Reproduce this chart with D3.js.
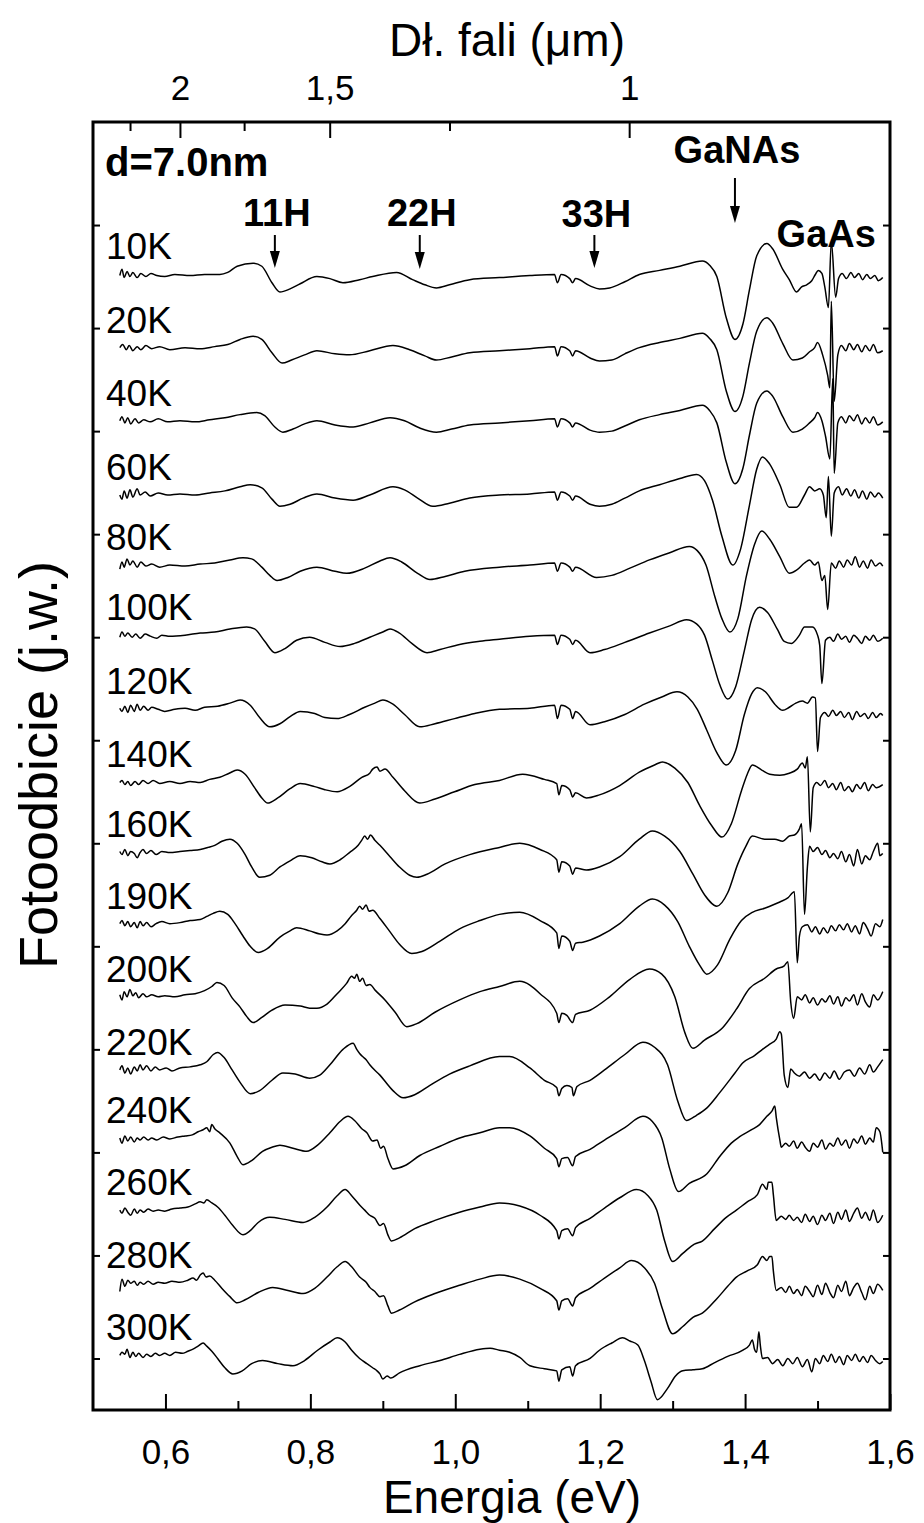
<!DOCTYPE html>
<html>
<head>
<meta charset="utf-8">
<script src="https://cdn.jsdelivr.net/npm/d3@7"></script>
<style>
  body { margin: 0; background: #fff; }
  text { font-family: "Liberation Sans", Arial, sans-serif; fill: #000; }
</style>
</head>
<body>
<svg id="chart" width="924" height="1523"></svg>
<script>
// temperatures, top to bottom
const temps = ['10K','20K','40K','60K','80K','100K','120K','140K','160K','190K','200K','220K','240K','260K','280K','300K'];
// vertical offset of each spectrum (a.u.)
const offsets = [10.52, 9.81, 9.10, 8.38, 7.70, 7.02, 6.30, 5.59, 4.92, 4.22, 3.51, 2.80, 2.14, 1.44, 0.73, 0.03];

// spectra: [energy eV, signal (0.01 a.u.)]
const t10 = [[.537,-1],[.540,5],[.543,-3],[.547,3],[.551,-2],[.555,2],[.561,-3],[.566,1],[.573,-2],[.580,1],[.588,-1],[.599,-2],[.613,0],[.634,-1],[.654,0],[.675,0],[.686,2],[.699,8],[.721,11],[.733,8],[.747,-8],[.758,-17],[.772,-14],[.786,-9],[.809,-2],[.827,-4],[.845,-8],[.868,-5],[.886,-2],[.919,2],[.941,-5],[.958,-10],[.974,-13],[.992,-10],[1.020,-5],[1.061,-3],[1.103,-1],[1.137,0],[1.141,-8],[1.146,0],[1.158,-4],[1.162,-8],[1.166,-4],[1.186,-11],[1.199,-14],[1.213,-13],[1.234,-7],[1.254,0],[1.282,4],[1.310,8],[1.341,13],[1.351,9],[1.361,-2],[1.374,-42],[1.386,-63],[1.397,-48],[1.406,-15],[1.416,18],[1.430,30],[1.438,25],[1.452,5],[1.461,-5],[1.471,-17],[1.478,-12],[1.485,-10],[1.492,-6],[1.497,0],[1.501,4],[1.506,1],[1.510,-12],[1.515,-32],[1.519,32],[1.525,-22],[1.529,-4],[1.534,1],[1.540,-4],[1.546,2],[1.551,-3],[1.557,1],[1.562,-5],[1.568,0],[1.573,-4],[1.579,-1],[1.584,-6],[1.590,-3]];
const t20 = [[.537,0],[.541,3],[.546,-2],[.550,2],[.555,-3],[.561,1],[.566,-2],[.573,2],[.581,-1],[.592,1],[.606,-2],[.627,0],[.648,-1],[.668,1],[.686,3],[.703,8],[.721,11],[.733,8],[.747,-5],[.761,-15],[.774,-12],[.792,-7],[.809,-3],[.834,-6],[.854,-7],[.882,-3],[.914,2],[.937,-2],[.958,-8],[.974,-12],[.995,-9],[1.020,-5],[1.061,-3],[1.103,-1],[1.137,1],[1.141,-8],[1.146,1],[1.158,-3],[1.162,-8],[1.166,-3],[1.186,-10],[1.199,-13],[1.216,-12],[1.234,-6],[1.254,0],[1.282,5],[1.310,9],[1.341,14],[1.351,9],[1.361,-2],[1.374,-42],[1.386,-62],[1.397,-47],[1.406,-15],[1.416,16],[1.430,29],[1.438,24],[1.452,4],[1.466,-12],[1.479,-10],[1.489,-4],[1.496,0],[1.500,5],[1.507,-7],[1.514,-27],[1.517,-39],[1.519,45],[1.523,-52],[1.528,-7],[1.533,2],[1.539,-3],[1.544,4],[1.550,-2],[1.555,3],[1.561,-4],[1.566,2],[1.572,-3],[1.577,3],[1.583,-5],[1.590,-3]];
const t40 = [[.537,0],[.540,4],[.544,-2],[.548,3],[.552,-3],[.558,2],[.563,-2],[.570,1],[.579,-1],[.590,2],[.603,-1],[.620,0],[.641,-1],[.661,1],[.682,3],[.703,6],[.726,8],[.737,5],[.751,-6],[.762,-11],[.776,-8],[.792,-3],[.809,0],[.834,-4],[.859,-6],[.882,-2],[.910,3],[.930,0],[.951,-7],[.974,-11],[.995,-8],[1.020,-4],[1.061,-2],[1.103,0],[1.137,2],[1.141,-6],[1.146,2],[1.158,-2],[1.162,-6],[1.166,-2],[1.186,-9],[1.199,-11],[1.216,-10],[1.234,-5],[1.254,1],[1.282,6],[1.310,10],[1.341,15],[1.351,10],[1.361,-2],[1.374,-40],[1.386,-61],[1.397,-46],[1.406,-14],[1.416,17],[1.430,29],[1.438,24],[1.452,4],[1.466,-11],[1.479,-8],[1.489,-2],[1.496,3],[1.500,8],[1.506,0],[1.511,-15],[1.517,-37],[1.521,41],[1.523,-51],[1.528,-2],[1.533,4],[1.539,-2],[1.544,5],[1.550,0],[1.555,6],[1.561,-3],[1.566,3],[1.572,-2],[1.577,4],[1.583,-4],[1.590,-1]];
const t60 = [[.537,0],[.540,-4],[.543,4],[.547,-3],[.551,5],[.555,-2],[.561,6],[.565,0],[.572,3],[.579,-1],[.590,2],[.603,0],[.620,1],[.641,0],[.661,2],[.682,4],[.703,8],[.717,10],[.733,7],[.747,-4],[.758,-11],[.772,-9],[.790,-3],[.809,1],[.834,-3],[.859,-5],[.882,0],[.914,8],[.930,5],[.948,-3],[.969,-11],[.992,-8],[1.020,-3],[1.061,0],[1.103,1],[1.137,3],[1.141,-5],[1.146,3],[1.158,-1],[1.162,-5],[1.166,-1],[1.186,-9],[1.199,-11],[1.216,-9],[1.234,-3],[1.254,4],[1.282,10],[1.310,16],[1.333,20],[1.344,14],[1.355,-5],[1.368,-40],[1.383,-68],[1.394,-52],[1.406,-10],[1.416,25],[1.424,37],[1.434,30],[1.448,10],[1.461,-12],[1.471,-12],[1.482,0],[1.489,8],[1.496,4],[1.503,6],[1.508,0],[1.512,-22],[1.515,18],[1.519,-40],[1.523,2],[1.529,8],[1.534,0],[1.540,6],[1.546,-1],[1.551,5],[1.557,-3],[1.562,4],[1.568,-4],[1.573,3],[1.579,-2],[1.584,2],[1.590,-3]];
const t80 = [[.537,-4],[.540,3],[.543,-2],[.547,6],[.551,0],[.555,4],[.561,-2],[.566,3],[.573,-1],[.581,1],[.592,-2],[.606,0],[.627,-1],[.648,1],[.668,2],[.689,5],[.707,7],[.719,6],[.733,-2],[.744,-10],[.754,-15],[.769,-12],[.786,-6],[.809,-2],[.834,-6],[.850,-8],[.875,-3],[.896,4],[.910,7],[.926,3],[.948,-8],[.965,-14],[.986,-11],[1.013,-6],[1.061,-2],[1.103,0],[1.137,2],[1.141,-6],[1.146,2],[1.158,-2],[1.162,-6],[1.166,-2],[1.195,-12],[1.216,-10],[1.241,-3],[1.268,5],[1.296,12],[1.323,18],[1.334,14],[1.346,0],[1.358,-30],[1.368,-52],[1.379,-65],[1.390,-52],[1.402,-10],[1.413,20],[1.423,33],[1.434,25],[1.448,8],[1.461,-8],[1.471,-5],[1.482,2],[1.489,5],[1.496,0],[1.501,3],[1.506,-15],[1.510,-10],[1.514,-43],[1.519,2],[1.525,-3],[1.530,4],[1.536,-2],[1.541,5],[1.547,0],[1.552,8],[1.558,-2],[1.563,4],[1.569,-3],[1.574,5],[1.580,-1],[1.586,2],[1.590,-1]];
const t100 = [[.537,-2],[.540,3],[.544,-1],[.548,2],[.554,-2],[.559,1],[.565,-3],[.572,1],[.579,-1],[.588,-3],[.595,0],[.606,-1],[.627,0],[.648,2],[.668,3],[.689,6],[.712,8],[.723,6],[.737,-6],[.751,-17],[.765,-13],[.781,-5],[.799,-2],[.820,-7],[.841,-11],[.861,-8],[.882,-2],[.900,3],[.910,6],[.923,2],[.940,-8],[.961,-17],[.979,-14],[1.006,-9],[1.034,-6],[1.061,-4],[1.103,-1],[1.137,0],[1.141,-9],[1.146,0],[1.158,-4],[1.162,-9],[1.166,-5],[1.186,-17],[1.206,-14],[1.234,-7],[1.268,2],[1.296,9],[1.319,15],[1.333,11],[1.344,0],[1.355,-25],[1.365,-48],[1.376,-62],[1.387,-50],[1.399,-15],[1.409,15],[1.420,27],[1.431,22],[1.445,5],[1.454,-6],[1.464,-8],[1.475,0],[1.482,8],[1.493,8],[1.500,0],[1.503,-10],[1.506,-47],[1.511,-5],[1.517,-2],[1.522,-6],[1.528,1],[1.533,-4],[1.539,-1],[1.544,-7],[1.550,0],[1.555,-3],[1.561,-8],[1.566,-1],[1.572,-5],[1.577,0],[1.583,-6],[1.590,-3]];
const t120 = [[.537,1],[.540,-2],[.544,3],[.548,-3],[.552,4],[.557,-2],[.561,5],[.565,-1],[.570,3],[.576,-1],[.581,2],[.590,0],[.599,-2],[.613,0],[.627,1],[.641,-1],[.654,2],[.672,3],[.689,6],[.703,9],[.717,4],[.730,-8],[.744,-17],[.758,-14],[.772,-7],[.786,-2],[.806,-4],[.820,-8],[.837,-9],[.854,-5],[.875,2],[.889,6],[.900,9],[.914,5],[.930,-5],[.951,-17],[.972,-14],[.999,-9],[1.027,-4],[1.061,0],[1.103,1],[1.137,4],[1.141,-9],[1.146,4],[1.158,0],[1.162,-9],[1.166,-2],[1.186,-15],[1.206,-12],[1.234,-5],[1.261,5],[1.285,12],[1.306,17],[1.321,12],[1.334,0],[1.347,-20],[1.361,-42],[1.374,-54],[1.387,-40],[1.399,-5],[1.409,15],[1.417,21],[1.428,17],[1.441,5],[1.452,-1],[1.461,2],[1.470,6],[1.479,8],[1.486,6],[1.493,12],[1.497,11],[1.500,-41],[1.504,-8],[1.510,-3],[1.515,-7],[1.521,-1],[1.526,-6],[1.532,-2],[1.537,-8],[1.543,-3],[1.548,-10],[1.554,-2],[1.559,-7],[1.565,-4],[1.570,-9],[1.576,-3],[1.581,-8],[1.587,-4],[1.590,-6]];
const t140 = [[.537,0],[.540,2],[.544,-2],[.548,1],[.552,-3],[.558,1],[.563,-2],[.569,2],[.576,-1],[.583,2],[.592,-1],[.606,1],[.620,-1],[.634,1],[.648,0],[.661,3],[.675,5],[.688,9],[.699,12],[.710,8],[.723,-5],[.733,-15],[.741,-20],[.755,-15],[.772,-6],[.786,-1],[.806,-4],[.820,-7],[.837,-9],[.854,-4],[.871,5],[.882,9],[.886,13],[.892,15],[.896,11],[.903,13],[.914,5],[.930,-8],[.951,-20],[.972,-16],[.999,-9],[1.027,-2],[1.061,2],[1.093,8],[1.123,3],[1.140,-1],[1.143,-12],[1.147,-3],[1.158,-7],[1.162,-14],[1.166,-10],[1.181,-15],[1.199,-12],[1.227,-3],[1.254,10],[1.275,17],[1.286,20],[1.303,14],[1.321,0],[1.337,-22],[1.354,-42],[1.368,-53],[1.381,-40],[1.395,-8],[1.403,8],[1.410,17],[1.423,12],[1.434,8],[1.448,7],[1.461,9],[1.472,13],[1.479,19],[1.483,14],[1.486,25],[1.490,-48],[1.494,-5],[1.499,0],[1.504,-3],[1.510,2],[1.515,-5],[1.521,-1],[1.526,-7],[1.532,0],[1.537,-8],[1.543,-4],[1.548,-9],[1.554,-2],[1.559,-6],[1.565,0],[1.570,-8],[1.576,-2],[1.581,-5],[1.590,-2]];
const t160 = [[.537,0],[.540,-3],[.544,2],[.548,-4],[.552,0],[.557,-2],[.561,-6],[.565,-1],[.569,2],[.574,-2],[.580,1],[.587,-3],[.595,0],[.606,-1],[.620,0],[.634,1],[.648,2],[.659,4],[.668,6],[.678,10],[.689,12],[.699,8],[.710,-3],[.719,-15],[.730,-25],[.744,-23],[.758,-15],[.772,-9],[.786,-4],[.802,-6],[.816,-10],[.827,-12],[.841,-8],[.854,-1],[.866,6],[.871,11],[.875,15],[.879,12],[.883,16],[.889,11],[.896,6],[.910,-5],[.923,-15],[.937,-23],[.947,-25],[.961,-22],[.986,-12],[1.020,-3],[1.061,4],[1.089,8],[1.117,2],[1.140,-8],[1.143,-20],[1.147,-10],[1.158,-14],[1.162,-22],[1.166,-16],[1.181,-18],[1.199,-15],[1.227,-5],[1.254,12],[1.272,20],[1.289,15],[1.310,0],[1.328,-22],[1.344,-42],[1.361,-53],[1.376,-40],[1.390,-12],[1.401,5],[1.410,15],[1.427,12],[1.441,12],[1.452,10],[1.461,15],[1.468,16],[1.475,22],[1.478,27],[1.482,-61],[1.486,-15],[1.489,5],[1.494,0],[1.500,4],[1.506,-3],[1.511,1],[1.517,-6],[1.522,-2],[1.528,-7],[1.533,0],[1.539,-10],[1.544,-3],[1.550,-14],[1.555,2],[1.561,-12],[1.566,-4],[1.572,-8],[1.577,0],[1.583,8],[1.586,-4],[1.590,-2]];
const t190 = [[.537,0],[.540,3],[.544,-2],[.548,2],[.552,-3],[.557,1],[.561,-4],[.565,2],[.569,-2],[.574,1],[.580,-3],[.587,0],[.595,2],[.606,0],[.620,1],[.634,3],[.648,4],[.657,7],[.666,10],[.675,12],[.686,9],[.696,0],[.707,-12],[.717,-22],[.728,-28],[.741,-24],[.758,-13],[.772,-7],[.781,-4],[.799,-7],[.813,-10],[.823,-11],[.837,-7],[.848,0],[.857,8],[.864,13],[.868,17],[.872,14],[.877,18],[.881,12],[.886,13],[.896,5],[.910,-8],[.923,-20],[.940,-29],[.954,-27],[.979,-17],[1.006,-5],[1.034,3],[1.061,9],[1.089,11],[1.117,3],[1.140,-9],[1.143,-24],[1.147,-12],[1.158,-17],[1.162,-26],[1.166,-19],[1.176,-18],[1.199,-12],[1.227,0],[1.254,17],[1.272,24],[1.289,18],[1.307,2],[1.323,-22],[1.337,-40],[1.347,-49],[1.362,-40],[1.379,-15],[1.395,3],[1.410,11],[1.427,15],[1.448,21],[1.459,25],[1.468,31],[1.472,-38],[1.475,-12],[1.479,-3],[1.486,-1],[1.492,-8],[1.497,-3],[1.503,-10],[1.508,-4],[1.514,-9],[1.519,-2],[1.525,-7],[1.530,-1],[1.536,-6],[1.541,0],[1.547,-8],[1.552,-2],[1.558,-10],[1.563,1],[1.569,-5],[1.574,-12],[1.580,0],[1.586,-3],[1.590,4]];
const t200 = [[.537,2],[.540,-3],[.543,5],[.547,0],[.551,7],[.555,1],[.559,4],[.563,-1],[.569,3],[.574,0],[.581,2],[.590,0],[.599,1],[.613,0],[.627,2],[.641,3],[.654,6],[.664,10],[.671,14],[.681,11],[.692,-1],[.703,-10],[.712,-19],[.721,-25],[.733,-20],[.747,-13],[.765,-8],[.786,-9],[.799,-11],[.809,-11],[.823,-7],[.837,3],[.850,13],[.857,20],[.861,18],[.864,22],[.868,15],[.872,18],[.877,11],[.882,12],[.890,6],[.903,-3],[.917,-15],[.933,-29],[.947,-26],[.972,-15],[1.006,-3],[1.034,5],[1.061,10],[1.089,15],[1.117,3],[1.140,-16],[1.143,-25],[1.147,-16],[1.154,-18],[1.162,-25],[1.166,-17],[1.186,-13],[1.213,0],[1.241,17],[1.268,27],[1.285,22],[1.303,0],[1.317,-35],[1.328,-50],[1.344,-42],[1.369,-30],[1.388,-12],[1.406,8],[1.427,18],[1.443,27],[1.454,30],[1.459,34],[1.463,-5],[1.467,-21],[1.472,0],[1.478,-3],[1.483,2],[1.489,-6],[1.494,-1],[1.500,-8],[1.506,-2],[1.511,-5],[1.517,1],[1.522,-7],[1.528,0],[1.533,-9],[1.539,-1],[1.544,-4],[1.550,2],[1.555,-8],[1.561,3],[1.566,-5],[1.572,-10],[1.577,2],[1.583,-3],[1.590,5]];
const t220 = [[.537,0],[.540,4],[.544,-3],[.548,2],[.552,-4],[.557,3],[.561,-1],[.565,5],[.569,0],[.574,4],[.580,-1],[.586,3],[.592,0],[.601,2],[.609,-1],[.620,2],[.634,3],[.648,5],[.657,8],[.666,15],[.672,17],[.681,12],[.692,0],[.703,-12],[.717,-23],[.730,-20],[.747,-10],[.762,-3],[.779,-4],[.799,-8],[.813,-5],[.827,5],[.845,20],[.859,26],[.864,20],[.868,16],[.872,13],[.877,10],[.882,5],[.896,-5],[.914,-20],[.928,-27],[.944,-24],[.965,-15],[.992,-4],[1.020,4],[1.061,13],[1.075,13],[1.103,2],[1.123,-10],[1.140,-17],[1.143,-25],[1.147,-18],[1.154,-15],[1.161,-17],[1.163,-25],[1.168,-16],[1.186,-10],[1.206,0],[1.234,15],[1.259,27],[1.275,22],[1.293,5],[1.307,-30],[1.319,-49],[1.333,-44],[1.347,-37],[1.365,-22],[1.386,-3],[1.397,7],[1.413,14],[1.424,20],[1.434,25],[1.443,30],[1.448,37],[1.450,35],[1.454,-5],[1.459,-17],[1.463,1],[1.468,-3],[1.475,-6],[1.482,-2],[1.489,-8],[1.496,-4],[1.503,-10],[1.510,-3],[1.517,-8],[1.523,-1],[1.530,-9],[1.537,-2],[1.544,0],[1.551,-6],[1.558,2],[1.565,-4],[1.572,5],[1.577,-2],[1.583,3],[1.590,10]];
const t240 = [[.537,0],[.540,-5],[.544,2],[.548,-3],[.552,1],[.557,-4],[.561,0],[.565,-2],[.570,1],[.576,-2],[.581,0],[.588,-2],[.597,1],[.606,-1],[.617,1],[.627,2],[.637,3],[.645,6],[.652,8],[.657,10],[.661,6],[.664,13],[.668,9],[.675,5],[.689,-5],[.699,-18],[.707,-26],[.719,-22],[.734,-13],[.747,-9],[.758,-7],[.776,-10],[.795,-13],[.810,-7],[.827,5],[.841,16],[.852,21],[.861,17],[.871,9],[.878,5],[.886,-3],[.892,-2],[.897,-10],[.901,-8],[.907,-20],[.914,-30],[.930,-27],[.951,-17],[.979,-8],[1.006,0],[1.034,5],[1.061,10],[1.075,10],[1.103,2],[1.123,-10],[1.140,-20],[1.143,-28],[1.147,-20],[1.155,-19],[1.162,-27],[1.166,-18],[1.186,-11],[1.206,-2],[1.234,10],[1.259,21],[1.272,16],[1.285,0],[1.296,-30],[1.308,-52],[1.323,-44],[1.347,-35],[1.365,-18],[1.381,-5],[1.392,1],[1.409,8],[1.420,13],[1.430,21],[1.437,26],[1.441,31],[1.443,20],[1.448,-2],[1.450,-9],[1.456,-5],[1.461,-8],[1.467,-3],[1.472,-10],[1.478,-4],[1.483,-9],[1.489,-13],[1.494,-5],[1.500,-9],[1.506,-2],[1.511,-11],[1.517,-5],[1.522,-8],[1.528,0],[1.533,-7],[1.539,-2],[1.544,-10],[1.550,-1],[1.555,-5],[1.561,2],[1.566,-6],[1.572,0],[1.577,-4],[1.581,10],[1.586,6],[1.590,-14]];
const t260 = [[.537,0],[.540,-3],[.544,2],[.548,-2],[.552,-5],[.557,1],[.561,-3],[.565,0],[.570,-2],[.576,1],[.583,-1],[.590,0],[.599,-1],[.609,1],[.620,2],[.631,3],[.641,6],[.648,8],[.653,7],[.657,10],[.664,7],[.672,3],[.682,-5],[.693,-15],[.707,-24],[.717,-20],[.728,-12],[.744,-7],[.765,-9],[.790,-12],[.806,-7],[.823,3],[.837,14],[.848,20],[.857,14],[.868,5],[.875,0],[.882,-5],[.889,-8],[.896,-15],[.901,-13],[.907,-24],[.912,-30],[.923,-27],[.944,-18],[.972,-10],[1.006,-2],[1.034,3],[1.061,7],[1.089,4],[1.117,-5],[1.140,-20],[1.143,-28],[1.147,-20],[1.155,-18],[1.162,-25],[1.166,-17],[1.186,-8],[1.206,2],[1.227,12],[1.250,20],[1.266,14],[1.278,0],[1.289,-30],[1.300,-50],[1.314,-42],[1.330,-33],[1.341,-30],[1.358,-18],[1.374,-7],[1.388,0],[1.403,8],[1.417,15],[1.424,25],[1.430,20],[1.432,27],[1.437,27],[1.439,15],[1.443,-10],[1.450,-6],[1.456,-9],[1.461,-5],[1.467,-10],[1.472,-7],[1.478,-12],[1.483,-4],[1.489,-11],[1.494,-6],[1.500,-14],[1.506,-5],[1.511,-10],[1.517,-3],[1.522,-13],[1.528,-2],[1.533,-9],[1.539,0],[1.544,-11],[1.550,-3],[1.555,2],[1.561,-8],[1.566,-2],[1.572,-10],[1.577,0],[1.583,-12],[1.590,-5]];
const t280 = [[.537,-8],[.540,4],[.544,-3],[.548,3],[.552,0],[.557,2],[.561,-2],[.565,1],[.570,-1],[.576,2],[.583,-1],[.590,1],[.599,0],[.609,2],[.620,1],[.631,3],[.638,5],[.643,3],[.648,8],[.652,10],[.656,6],[.661,7],[.668,3],[.678,-5],[.689,-13],[.699,-19],[.710,-16],[.728,-9],[.748,-4],[.769,-7],[.790,-10],[.806,-5],[.823,6],[.837,16],[.848,21],[.857,16],[.868,6],[.877,1],[.882,-4],[.889,-8],[.896,-13],[.901,-12],[.907,-22],[.912,-29],[.923,-26],[.944,-18],[.972,-10],[1.006,-2],[1.034,4],[1.061,8],[1.089,4],[1.117,-5],[1.140,-17],[1.143,-26],[1.147,-17],[1.155,-15],[1.162,-22],[1.166,-14],[1.186,-5],[1.206,5],[1.227,15],[1.243,22],[1.261,15],[1.275,0],[1.286,-25],[1.300,-49],[1.314,-42],[1.328,-33],[1.341,-29],[1.361,-15],[1.376,-3],[1.388,6],[1.403,12],[1.417,18],[1.424,26],[1.430,22],[1.434,26],[1.437,26],[1.439,12],[1.443,-7],[1.450,-4],[1.456,-9],[1.461,-3],[1.467,-10],[1.472,-6],[1.478,-12],[1.483,-3],[1.489,-8],[1.494,-13],[1.500,-2],[1.506,-11],[1.511,0],[1.517,-9],[1.522,-14],[1.528,-2],[1.533,-8],[1.539,2],[1.544,-12],[1.550,-4],[1.555,0],[1.561,-9],[1.566,-16],[1.572,-3],[1.577,-10],[1.583,-1],[1.590,-7]];
const t300 = [[.537,0],[.540,3],[.544,1],[.547,6],[.551,-2],[.555,3],[.559,-1],[.563,2],[.569,-2],[.574,1],[.580,-1],[.586,2],[.592,0],[.599,2],[.606,0],[.614,3],[.623,2],[.631,4],[.638,6],[.645,9],[.652,12],[.657,9],[.664,4],[.672,-3],[.682,-12],[.693,-18],[.706,-15],[.719,-8],[.734,-5],[.755,-8],[.776,-10],[.792,-5],[.810,5],[.827,13],[.837,17],[.848,13],[.857,5],[.868,-3],[.878,-8],[.886,-12],[.892,-15],[.896,-18],[.900,-23],[.906,-20],[.911,-22],[.923,-17],[.951,-10],[.979,-5],[1.006,1],[1.034,6],[1.048,7],[1.061,5],[1.075,3],[1.089,-2],[1.103,-10],[1.123,-13],[1.140,-15],[1.143,-25],[1.147,-14],[1.158,-11],[1.162,-20],[1.166,-10],[1.186,-3],[1.199,5],[1.216,12],[1.231,17],[1.241,14],[1.252,10],[1.261,-5],[1.270,-25],[1.279,-43],[1.293,-32],[1.304,-20],[1.314,-15],[1.328,-14],[1.341,-13],[1.358,-7],[1.376,-1],[1.397,5],[1.406,10],[1.410,15],[1.413,6],[1.416,3],[1.419,23],[1.421,10],[1.424,-3],[1.431,-2],[1.438,-8],[1.445,-4],[1.452,-10],[1.459,-3],[1.466,-8],[1.472,-2],[1.479,-11],[1.486,-4],[1.492,-16],[1.497,-3],[1.503,-8],[1.508,0],[1.514,-6],[1.519,1],[1.525,-7],[1.530,-1],[1.536,-9],[1.541,0],[1.547,-5],[1.552,1],[1.558,-6],[1.563,-1],[1.569,-7],[1.574,0],[1.580,-5],[1.586,-8],[1.590,-6]];

const spectra = [t10, t20, t40, t60, t80, t100, t120, t140, t160, t190, t200, t220, t240, t260, t280, t300];

// axes
const energyMajor = [0.6, 0.8, 1.0, 1.2, 1.4, 1.6];
const energyMinor = [0.7, 0.9, 1.1, 1.3, 1.5];
const lambdaMajor = [2, 1.5, 1];
const lambdaMinor = [2.25, 1.75, 1.25];
const yTicks = [0, 1, 2, 3, 4, 5, 6, 7, 8, 9, 10, 11];

// annotations: label, energy of arrow
const peakNames = ['11H', '22H', '33H', 'GaNAs'];
const peakEnergy = [0.751, 0.951, 1.192, 1.386];

const svg = d3.select('#chart');
const margin = {left: 93, right: 34, top: 122, bottom: 113};
const W = 924, H = 1523;

const x = d3.scaleLinear().domain([0.5, 1.6]).range([margin.left, W - margin.right]);
const y = d3.scaleLinear().domain([-0.5, 12]).range([H - margin.bottom, margin.top]);

const pl = d3.formatLocale({decimal: ',', thousands: ' ', grouping: [3], currency: ['', '']});
const fmtE = pl.format('.1f');
const fmtL = pl.format('~g');

// bottom axis
svg.append('g').attr('class', 'tl').attr('transform', `translate(0,${y(-0.5)})`)
  .call(d3.axisBottom(x).tickValues(energyMajor).tickSize(-16).tickPadding(29).tickFormat(fmtE));
svg.append('g').attr('transform', `translate(0,${y(-0.5)})`)
  .call(d3.axisBottom(x).tickValues(energyMinor).tickSize(-9).tickFormat(''));

// top axis in wavelength
svg.append('g').attr('class', 'tl').attr('transform', `translate(0,${y(12)})`)
  .call(d3.axisTop(x).tickValues(lambdaMajor.map(l => 1.24 / l)).tickSize(-16).tickPadding(22)
    .tickFormat(e => fmtL(+(1.24 / e).toFixed(2))));
svg.append('g').attr('transform', `translate(0,${y(12)})`)
  .call(d3.axisTop(x).tickValues(lambdaMinor.map(l => 1.24 / l)).tickSize(-9).tickFormat(''));

// left / right ticks
svg.append('g').attr('transform', `translate(${x(0.5)},0)`)
  .call(d3.axisLeft(y).tickValues(yTicks).tickSize(-7).tickFormat(''));
svg.append('g').attr('transform', `translate(${x(1.6)},0)`)
  .call(d3.axisRight(y).tickValues(yTicks).tickSize(-7).tickFormat(''));

svg.selectAll('.domain').remove();
svg.selectAll('.tick line').attr('stroke', '#000').attr('stroke-width', 2);
svg.selectAll('.tl .tick text').style('font-size', '35px').attr('fill', '#000');

// frame
svg.append('rect')
  .attr('x', x(0.5)).attr('y', y(12))
  .attr('width', x(1.6) - x(0.5)).attr('height', y(-0.5) - y(12))
  .attr('fill', 'none').attr('stroke', '#000').attr('stroke-width', 3);

// spectra
const line = d3.line().curve(d3.curveMonotoneX);
spectra.forEach((s, i) => {
  const off = offsets[i];
  svg.append('path')
    .attr('d', line.x(d => x(d[0])).y(d => y(off + d[1] / 100))(s))
    .attr('fill', 'none').attr('stroke', '#000').attr('stroke-width', 1.5)
    .attr('stroke-linejoin', 'round');
  svg.append('text')
    .attr('x', 106).attr('y', y(off) - 15)
    .style('font-size', '37px')
    .text(temps[i]);
});

// titles
svg.append('text').attr('x', 512).attr('y', 1513)
  .attr('text-anchor', 'middle').style('font-size', '46px').text('Energia (eV)');
svg.append('text').attr('x', 507).attr('y', 56)
  .attr('text-anchor', 'middle').style('font-size', '46px').text('Dł. fali (μm)');
svg.append('text').attr('transform', 'translate(57,765) rotate(-90)')
  .attr('text-anchor', 'middle').style('font-size', '54px').text('Fotoodbicie (j.w.)');

// annotations
svg.append('text').attr('x', 105).attr('y', 176)
  .style('font-size', '40px').style('font-weight', 'bold').text('d=7.0nm');

const arrowTop = [235, 235, 235, 178];
const arrowTip = [268, 269, 268, 223];
const labelBase = [226, 226, 227, 163];
peakNames.forEach((n, i) => {
  const px = x(peakEnergy[i]);
  svg.append('text').attr('x', px + 2).attr('y', labelBase[i])
    .attr('text-anchor', 'middle').style('font-size', '38px').style('font-weight', 'bold').text(n);
  svg.append('line').attr('x1', px).attr('x2', px)
    .attr('y1', arrowTop[i]).attr('y2', arrowTip[i] - 14)
    .attr('stroke', '#000').attr('stroke-width', 2);
  svg.append('path')
    .attr('d', `M${px - 5},${arrowTip[i] - 17}L${px + 5},${arrowTip[i] - 17}L${px},${arrowTip[i]}Z`)
    .attr('fill', '#000');
});
svg.append('text').attr('x', x(1.512)).attr('y', 247)
  .attr('text-anchor', 'middle').style('font-size', '38px').style('font-weight', 'bold').text('GaAs');
</script>
</body>
</html>
